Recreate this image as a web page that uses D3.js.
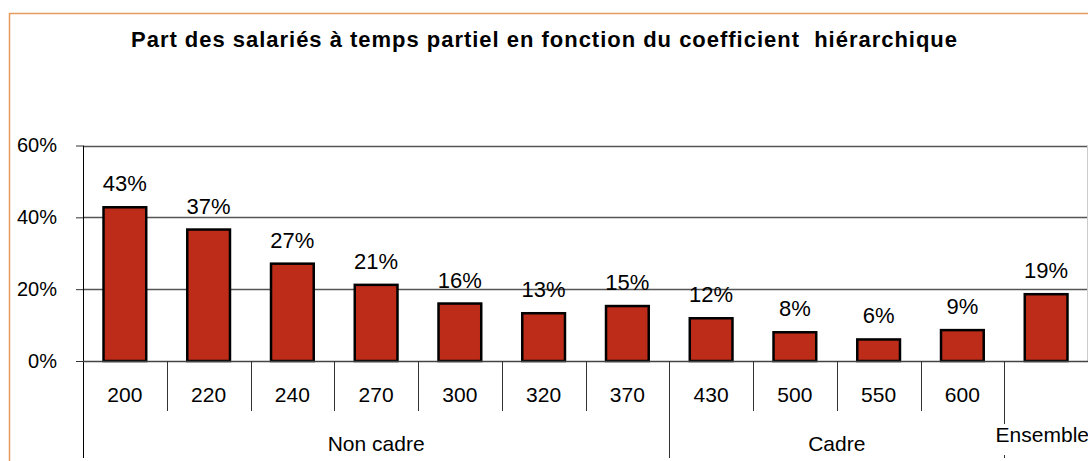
<!DOCTYPE html>
<html>
<head>
<meta charset="utf-8">
<script src="https://cdn.jsdelivr.net/npm/d3@7"></script>
<style>
  body { margin: 0; background: #fff; }
  svg { display: block; font-family: Arial, "Liberation Sans", sans-serif; }
</style>
</head>
<body>
<svg id="chart"></svg>
<script>
// data
const categories = ["200", "220", "240", "270", "300", "320", "370", "430", "500", "550", "600", "Ensemble"];
const tickLabels = ["200", "220", "240", "270", "300", "320", "370", "430", "500", "550", "600", ""];
const shares = [0.428, 0.366, 0.271, 0.212, 0.160, 0.133, 0.153, 0.119, 0.080, 0.060, 0.086, 0.186];
const groupNames = ["Non cadre", "Cadre", "Ensemble"];
const groupSizes = [7, 4, 1];
const yTicks = [0, 0.2, 0.4, 0.6];
const title = "Part des salariés à temps partiel en fonction du coefficient  hiérarchique";

const width = 1088, height = 461;
const plotLeft = 83, plotRight = 1088, plotTop = 145.5, plotBottom = 361;

const svg = d3.select("#chart")
  .attr("width", width)
  .attr("height", height);

// orange frame (top and left edges visible)
svg.append("path")
  .attr("d", `M9.5,${height} V13.5 H${width}`)
  .attr("fill", "none")
  .attr("stroke", "#e59a5e")
  .attr("stroke-width", 1.5);

// title is spread out a bit wider in the original
svg.append("text")
  .attr("x", width / 2)
  .attr("y", 46.5)
  .attr("text-anchor", "middle")
  .attr("font-size", 22)
  .attr("font-weight", "bold")
  .attr("textLength", 826)
  .attr("lengthAdjust", "spacing")
  .style("white-space", "pre")
  .text(title);

const y = d3.scaleLinear().domain([0, 0.6]).range([plotBottom, plotTop]);
const x = d3.scaleBand().domain(categories).range([plotLeft, plotRight])
  .paddingInner(0.49).paddingOuter(0.245);
const cell = d3.scaleBand().domain(categories).range([plotLeft, plotRight]);

// gridlines
svg.append("g")
  .selectAll("line")
  .data(yTicks.filter(d => d > 0))
  .join("line")
  .attr("x1", plotLeft).attr("x2", plotRight)
  .attr("y1", d => Math.round(y(d)) + 0.5).attr("y2", d => Math.round(y(d)) + 0.5)
  .attr("stroke", "#555")
  .attr("stroke-width", 1.3);

// plot right border
svg.append("line")
  .attr("x1", plotRight - 0.5).attr("x2", plotRight - 0.5)
  .attr("y1", plotTop).attr("y2", plotBottom)
  .attr("stroke", "#ccc");

// y axis
const yAxis = svg.append("g")
  .attr("transform", `translate(${plotLeft},0)`)
  .call(d3.axisLeft(y).tickValues(yTicks).tickFormat(d3.format(".0%")).tickSize(7).tickPadding(19));
yAxis.select(".domain").remove();
yAxis.selectAll("line").attr("stroke", "#333");
yAxis.selectAll("text")
  .attr("font-size", 20)
  .attr("font-family", "Arial, 'Liberation Sans', sans-serif")
  .attr("fill", "#000");

svg.append("line")
  .attr("x1", plotLeft + 0.5).attr("x2", plotLeft + 0.5)
  .attr("y1", plotTop).attr("y2", 458)
  .attr("stroke", "#000");

// bars
svg.append("g")
  .selectAll("rect")
  .data(shares)
  .join("rect")
  .attr("x", (d, i) => x(categories[i]))
  .attr("y", d => y(d))
  .attr("width", x.bandwidth())
  .attr("height", d => plotBottom - y(d))
  .attr("fill", "#bd2c19")
  .attr("stroke", "#000")
  .attr("stroke-width", 2.5);

// value labels
svg.append("g")
  .selectAll("text")
  .data(shares)
  .join("text")
  .attr("x", (d, i) => x(categories[i]) + x.bandwidth() / 2)
  .attr("y", d => y(d) - 16)
  .attr("text-anchor", "middle")
  .attr("font-size", 22)
  .text(d => d3.format(".0%")(d));

// x axis line
svg.append("line")
  .attr("x1", plotLeft).attr("x2", plotRight)
  .attr("y1", plotBottom + 0.5).attr("y2", plotBottom + 0.5)
  .attr("stroke", "#444")
  .attr("stroke-width", 1.5);

// category separators and labels
svg.append("g")
  .selectAll("line")
  .data(categories.slice(1))
  .join("line")
  .attr("x1", d => Math.round(cell(d)) + 0.5).attr("x2", d => Math.round(cell(d)) + 0.5)
  .attr("y1", plotBottom).attr("y2", 411)
  .attr("stroke", "#333");

svg.append("g")
  .selectAll("text")
  .data(tickLabels)
  .join("text")
  .attr("x", (d, i) => cell(categories[i]) + cell.bandwidth() / 2)
  .attr("y", 401.5)
  .attr("text-anchor", "middle")
  .attr("font-size", 21)
  .text(d => d);

// group separators and labels
let start = 0;
const groups = groupNames.map((name, i) => {
  const g = { name, first: categories[start], last: categories[start + groupSizes[i] - 1] };
  start += groupSizes[i];
  return g;
});

svg.append("g")
  .selectAll("line")
  .data(groups.slice(1))
  .join("line")
  .attr("x1", d => Math.round(cell(d.first)) + 0.5).attr("x2", d => Math.round(cell(d.first)) + 0.5)
  .attr("y1", plotBottom).attr("y2", 458)
  .attr("stroke", "#333");

groups.forEach((g, i) => {
  const x0 = cell(g.first), x1 = cell(g.last) + cell.bandwidth();
  if (i === groups.length - 1) {
    // last group label sits a bit higher, flush to the right edge, over the separator
    svg.append("rect")
      .attr("x", x0 - 10).attr("y", 424)
      .attr("width", x1 - x0 + 10).attr("height", 31)
      .attr("fill", "#fff");
    svg.append("text")
      .attr("x", x1 + 1)
      .attr("y", 442)
      .attr("text-anchor", "end")
      .attr("font-size", 21)
      .text(g.name);
  } else {
    svg.append("text")
      .attr("x", (x0 + x1) / 2)
      .attr("y", 450.5)
      .attr("text-anchor", "middle")
      .attr("font-size", 21)
      .text(g.name);
  }
});
</script>
</body>
</html>
